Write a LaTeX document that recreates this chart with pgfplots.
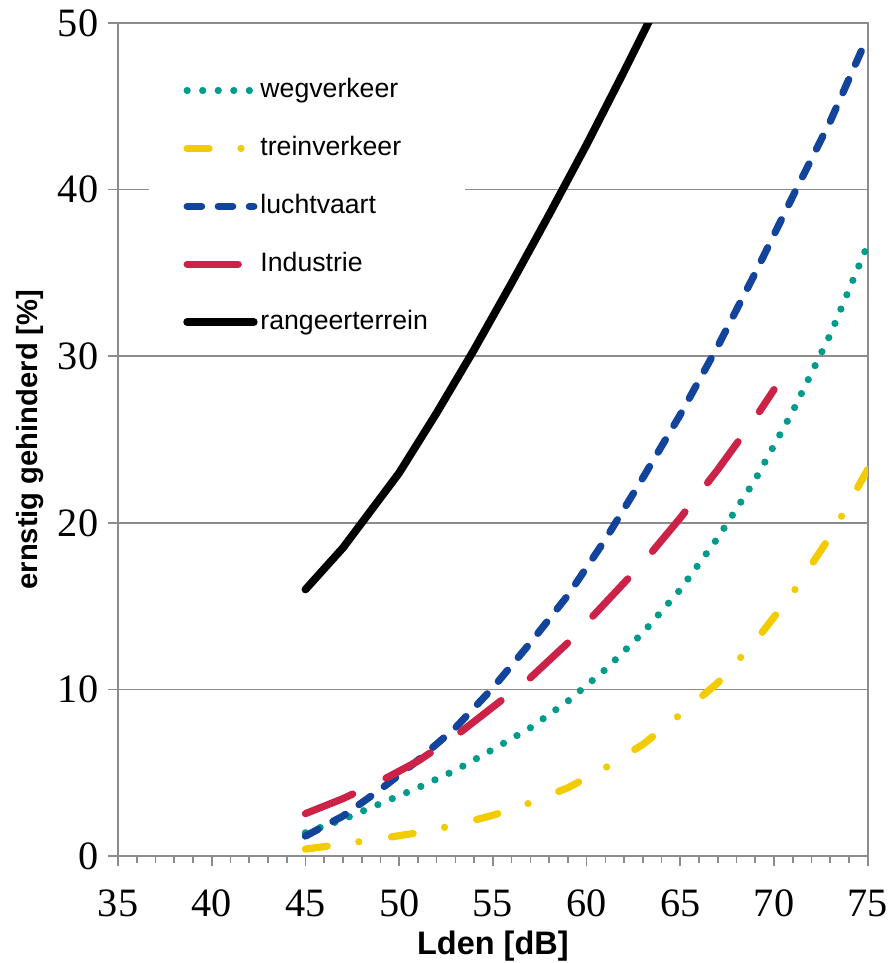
\documentclass[border=0pt]{standalone}
\usepackage{pgfplots}
\pgfplotsset{compat=1.18}
\usepackage{fontspec}
\setmainfont{Liberation Serif}
\newfontfamily\arial{Liberation Sans}

\definecolor{weg}{HTML}{009B8A}
\definecolor{trein}{HTML}{F2CC00}
\definecolor{lucht}{HTML}{12449C}
\definecolor{indu}{HTML}{CC2247}
\definecolor{axgray}{HTML}{8C8C8C}

\begin{document}
\begin{tikzpicture}
\begin{axis}[
    at={(0,0)}, anchor=south west,
    scale only axis,
    width=270pt, height=300pt,
    xmin=35, xmax=75,
    ymin=0, ymax=50,
    xtick={35,40,...,75},
    ytick={0,10,...,50},
    minor x tick num=4,
    tick pos=left,
    tick align=outside,
    major tick length=3.6pt,
    minor tick length=2.5pt,
    every tick/.style={axgray, line width=0.6pt},
    axis line style={axgray, line width=0.6pt},
    ymajorgrids=true,
    grid style={axgray, line width=0.6pt},
    /pgf/number format/assume math mode=true,
    ticklabel style={font=\fontsize{14.5}{16}\selectfont},
    xticklabel style={yshift=-5pt},
    xlabel={Lden [dB]},
    ylabel={ernstig gehinderd [\%]},
    xlabel style={font=\arial\bfseries\fontsize{11.7}{13}\selectfont, at={(axis description cs:0.5,-0.108)}, anchor=center},
    ylabel style={font=\arial\bfseries\fontsize{10.5}{12}\selectfont, at={(axis description cs:-0.1174,0.5)}, anchor=center},
    legend cell align=left,
    legend style={at={(axis description cs:0.04,0.958)}, anchor=north west,
        draw=none, fill=white, inner xsep=12.5pt, inner ysep=6pt,
        font=\arial\fontsize{9.6}{11}\selectfont,
        row sep=9.85pt,
        nodes={inner sep=1pt, text height=7pt, text depth=2pt}},
    legend image code/.code={\draw[#1] (0pt,0pt) -- (24pt,0pt);},
]

\addplot[weg, line width=2.6pt, line cap=round, dash pattern=on 0pt off 5.6pt] coordinates {
(45,1.4) (47,2.2) (49,3.15) (51,4.1) (53,5.15) (55,6.4) (57,7.7) (59,9.3)
(61,11.2) (63,13.4) (65,16.0) (67,19.1) (69,22.6) (71,26.7) (73,31.3) (75,36.7)
};
\addlegendentry{wegverkeer}

\addplot[trein, line width=2.6pt, line cap=round, dash pattern=on 7.9pt off 11.5pt on 0pt off 11.9pt] coordinates {
(45,0.42) (47,0.72) (49,1.05) (51,1.4) (53,1.86) (55,2.45) (57,3.2) (59,4.1)
(61,5.3) (63,6.7) (65,8.5) (67,10.4) (69,12.9) (71,15.8) (73,19.2) (75,23.2)
};
\addlegendentry{treinverkeer}

\addplot[lucht, line width=2.6pt, line cap=round, dash pattern=on 5.2pt off 6pt] coordinates {
(45,1.2) (47,2.4) (49,4.0) (51,5.75) (53,7.7) (55,10.1) (57,12.8) (59,15.65)
(61,19.0) (63,22.7) (65,26.5) (67,30.6) (69,35.0) (71,39.6) (73,44.1) (75,49.2)
};
\addlegendentry{luchtvaart}

\addplot[indu, line width=2.6pt, line cap=round, dash pattern=on 18.4pt off 13.3pt] coordinates {
(45,2.55) (47,3.45) (49,4.5) (51,5.7) (53,7.2) (55,8.95) (57,10.7) (59,12.8)
(61,15.2) (63,17.6) (65,20.3) (67,23.2) (69,26.3) (70,28.0)
};
\addlegendentry{Industrie}

\addplot[black, line width=2.8pt, line cap=round, line join=round] coordinates {
(45,16.0) (47,18.5) (50,23.0) (52,26.6) (54,30.4) (56,34.4) (58,38.5)
(60,42.7) (62,47.1) (64,51.6)
};
\addlegendentry{rangeerterrein}

\end{axis}
\pgfresetboundingbox
\path[use as bounding box] (-42.5pt,-38.5pt) rectangle (277.6pt,308.3pt);
\end{tikzpicture}
\end{document}
